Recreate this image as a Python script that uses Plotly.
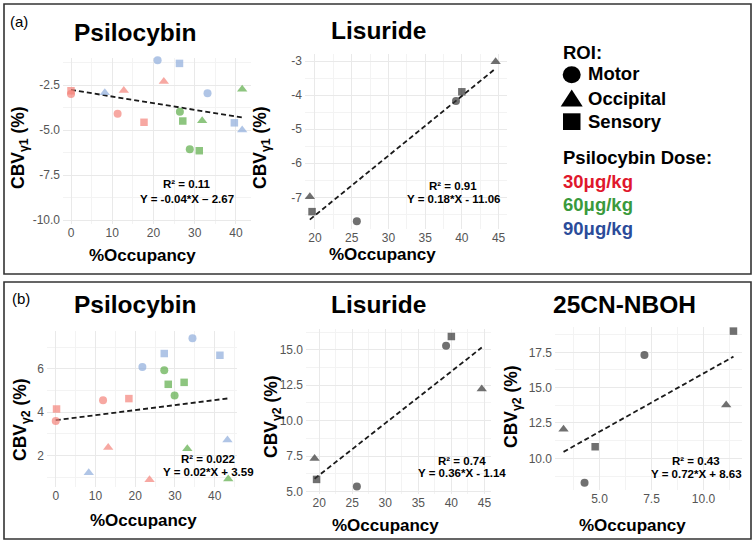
import numpy as np
import plotly.graph_objects as go

W, H = 755, 544
FONT = "Liberation Sans, Arial, Helvetica, sans-serif"

# ---------------- data ----------------
dose_names = ["30μg/kg", "60μg/kg", "90μg/kg"]
roi_names = ["Motor", "Occipital", "Sensory"]

psi_dose = ["30μg/kg"] * 6 + ["60μg/kg"] * 6 + ["90μg/kg"] * 6
psi_roi = ["Sensory", "Motor", "Motor", "Occipital", "Sensory", "Occipital",
           "Motor", "Sensory", "Motor", "Sensory", "Occipital", "Occipital",
           "Occipital", "Motor", "Sensory", "Motor", "Sensory", "Occipital"]
psi_occ_g1 = [0.0, 0.0, 11.3, 12.8, 17.7, 22.5,
              26.4, 27.1, 28.8, 31.1, 31.8, 41.5,
              8.2, 21.0, 26.3, 33.1, 39.6, 41.5]
psi_cbv_g1 = [-2.82, -3.0, -4.1, -2.8, -4.57, -2.3,
              -3.98, -4.5, -6.07, -6.15, -4.48, -2.74,
              -2.93, -1.13, -1.3, -2.96, -4.6, -5.0]
psi_occ_g2 = [0.2, 0.0, 11.9, 13.2, 18.4, 23.6,
              27.3, 28.3, 29.9, 32.3, 33.1, 43.4,
              8.3, 21.8, 27.3, 34.4, 41.3, 43.2]
psi_cbv_g2 = [4.15, 3.6, 4.55, 2.37, 4.63, 0.88,
              5.94, 5.29, 4.77, 5.38, 2.31, 0.92,
              1.21, 6.09, 6.71, 7.42, 6.63, 2.72]

lis_roi = ["Occipital", "Sensory", "Motor", "Motor", "Sensory", "Occipital"]
lis_occ = [19.3, 19.6, 25.7, 39.2, 40.0, 44.6]
lis_cbv_g1 = [-6.98, -7.42, -7.7, -4.17, -3.90, -3.02]
lis_cbv_g2 = [7.32, 5.85, 5.35, 15.28, 15.94, 12.23]

nb_roi = ["Occipital", "Motor", "Sensory", "Motor", "Occipital", "Sensory"]
nb_occ = [3.27, 4.28, 4.79, 7.16, 11.09, 11.44]
nb_cbv_g2 = [12.05, 8.27, 10.82, 17.31, 13.77, 19.0]

stats_psi_g1 = ["R² = 0.11", "Y = -0.04*X – 2.67"]
stats_lis_g1 = ["R² = 0.91", "Y = 0.18*X - 11.06"]
stats_psi_g2 = ["R² = 0.022", "Y = 0.02*X + 3.59"]
stats_lis_g2 = ["R² = 0.74", "Y = 0.36*X - 1.14"]
stats_nb_g2 = ["R² = 0.43", "Y = 0.72*X + 8.63"]

ticks_psi_x = [0, 10, 20, 30, 40]
ticks_psi_x_lab = ["0", "10", "20", "30", "40"]
ticks_psi_g1_y = [-10.0, -7.5, -5.0, -2.5]
ticks_psi_g1_y_lab = ["-10.0", "-7.5", "-5.0", "-2.5"]
ticks_lis_x = [20, 25, 30, 35, 40, 45]
ticks_lis_x_lab = ["20", "25", "30", "35", "40", "45"]
ticks_lis_g1_y = [-7, -6, -5, -4, -3]
ticks_lis_g1_y_lab = ["-7", "-6", "-5", "-4", "-3"]
ticks_psi_g2_y = [2, 4, 6]
ticks_psi_g2_y_lab = ["2", "4", "6"]
ticks_lis_g2_y = [5.0, 7.5, 10.0, 12.5, 15.0]
ticks_lis_g2_y_lab = ["5.0", "7.5", "10.0", "12.5", "15.0"]
ticks_nb_x = [5.0, 7.5, 10.0]
ticks_nb_x_lab = ["5.0", "7.5", "10.0"]
ticks_nb_g2_y = [10.0, 12.5, 15.0, 17.5]
ticks_nb_g2_y_lab = ["10.0", "12.5", "15.0", "17.5"]

# ---------------- styles ----------------
dose_color = {"30μg/kg": "#F4837B", "60μg/kg": "#5CAD49", "90μg/kg": "#8EACDC"}
legend_color = {"30μg/kg": "#E0172C", "60μg/kg": "#3A9A3C", "90μg/kg": "#2B4C9A"}
roi_symbol = {"Motor": "circle", "Occipital": "triangle-up", "Sensory": "square"}
roi_size = {"Motor": 8, "Occipital": 9, "Sensory": 7.5}
DARK = "#333333"


def fx(x):
    return x / W


def fy(y):
    return 1 - y / H


fig = go.Figure()

# panel geometry (pixels) and ranges
panels = [
    dict(k="", xd=(63, 251), yd=(58, 224), xr=(-1.94, 43.64), yr=(-10.22, -1.0),
         xt=ticks_psi_x, xtl=ticks_psi_x_lab, yt=ticks_psi_g1_y, ytl=ticks_psi_g1_y_lab),
    dict(k="2", xd=(305, 507), yd=(54, 229), xr=(18.64, 46.15), yr=(-7.93, -2.79),
         xt=ticks_lis_x, xtl=ticks_lis_x_lab, yt=ticks_lis_g1_y, ytl=ticks_lis_g1_y_lab),
    dict(k="3", xd=(47, 237), yd=(331, 487), xr=(-2.2, 45.6), yr=(0.55, 7.75),
         xt=ticks_psi_x, xtl=ticks_psi_x_lab, yt=ticks_psi_g2_y, ytl=ticks_psi_g2_y_lab),
    dict(k="4", xd=(306, 491), yd=(329, 494), xr=(18.0, 46.0), yr=(4.82, 16.47),
         xt=ticks_lis_x, xtl=ticks_lis_x_lab, yt=ticks_lis_g2_y, ytl=ticks_lis_g2_y_lab),
    dict(k="5", xd=(555, 742), yd=(327, 490), xr=(2.86, 11.85), yr=(7.76, 19.29),
         xt=ticks_nb_x, xtl=ticks_nb_x_lab, yt=ticks_nb_g2_y, ytl=ticks_nb_g2_y_lab),
]


def minor_vals(t):
    t = list(t)
    step = t[1] - t[0]
    return [t[0] - step / 2] + [a + step / 2 for a in t]


axis_common = dict(showline=False, zeroline=False, ticks="", showgrid=True,
                   gridcolor="#E9E9E9", gridwidth=1, automargin=False,
                   tickfont=dict(family=FONT, size=12, color="#555555"),
                   fixedrange=True)

for p in panels:
    k = p["k"]
    xa = dict(axis_common, domain=[fx(p["xd"][0]), fx(p["xd"][1])], range=list(p["xr"]),
              tickmode="array", tickvals=p["xt"], ticktext=p["xtl"], anchor="y" + k,
              minor=dict(showgrid=True, gridcolor="#F3F3F3", gridwidth=0.8,
                         tickmode="array", tickvals=minor_vals(p["xt"])))
    ya = dict(axis_common, domain=[fy(p["yd"][1]), fy(p["yd"][0])], range=list(p["yr"]),
              tickmode="array", tickvals=p["yt"], ticktext=p["ytl"], anchor="x" + k,
              ticklabelstandoff=2,
              minor=dict(showgrid=True, gridcolor="#F3F3F3", gridwidth=0.8,
                         tickmode="array", tickvals=minor_vals(p["yt"])))
    fig.update_layout(**{"xaxis" + k: xa, "yaxis" + k: ya})


def add_fit(xs, ys, k):
    b, a = np.polyfit(xs, ys, 1)
    xl = np.array([min(xs), max(xs)])
    fig.add_trace(go.Scatter(x=xl, y=a + b * xl, mode="lines",
                             line=dict(color="#1A1A1A", width=1.8, dash="5px,3px"),
                             xaxis="x" + k, yaxis="y" + k, hoverinfo="skip"))


def add_psi(occ, cbv, k):
    add_fit(occ, cbv, k)
    for d in dose_names:
        idx = [i for i, v in enumerate(psi_dose) if v == d]
        fig.add_trace(go.Scatter(
            x=[occ[i] for i in idx], y=[cbv[i] for i in idx], mode="markers",
            marker=dict(color=dose_color[d],
                        symbol=[roi_symbol[psi_roi[i]] for i in idx],
                        size=[roi_size[psi_roi[i]] for i in idx], line=dict(width=0)),
            cliponaxis=False, xaxis="x" + k, yaxis="y" + k, name=d))


def add_dark(occ, cbv, roi, k):
    add_fit(occ, cbv, k)
    fig.add_trace(go.Scatter(
        x=occ, y=cbv, mode="markers",
        marker=dict(color=DARK, symbol=[roi_symbol[r] for r in roi],
                    size=[roi_size[r] for r in roi], line=dict(width=0)),
        cliponaxis=False, xaxis="x" + k, yaxis="y" + k))


add_psi(psi_occ_g1, psi_cbv_g1, "")
add_dark(lis_occ, lis_cbv_g1, lis_roi, "2")
add_psi(psi_occ_g2, psi_cbv_g2, "3")
add_dark(lis_occ, lis_cbv_g2, lis_roi, "4")
add_dark(nb_occ, nb_cbv_g2, nb_roi, "5")

ann = []


def txt(s, x, y, size, bold=True, color="black", xanchor="center", angle=0):
    ann.append(dict(text=("<b>%s</b>" % s) if bold else s, x=fx(x), y=fy(y),
                    xref="paper", yref="paper", showarrow=False,
                    xanchor=xanchor, yanchor="middle", textangle=angle,
                    font=dict(family=FONT, size=size, color=color)))


# panel labels
txt("(a)", 19, 22, 15, bold=False)
txt("(b)", 21, 298, 15, bold=False)
# titles
txt("Psilocybin", 135, 32, 24.5)
txt("Lisuride", 378.5, 30, 24.5)
txt("Psilocybin", 135, 304, 24.5)
txt("Lisuride", 378.5, 304, 24.5)
txt("25CN-NBOH", 624, 304, 24.5)
# axis titles
for (x, y) in [(142, 255), (383, 254.5), (143, 520), (385, 525), (632, 525)]:
    txt("%Occupancy", x, y, 17)
ytitle1 = "CBV<sub>γ1</sub> (%)"
ytitle2 = "CBV<sub>γ2</sub> (%)"
txt(ytitle1, 20, 148, 17.5, angle=-90)
txt(ytitle1, 262, 148, 17.5, angle=-90)
txt(ytitle2, 21, 420, 17.5, angle=-90)
txt(ytitle2, 272, 417, 17.5, angle=-90)
txt(ytitle2, 512, 407, 17.5, angle=-90)
# stats
for (s, x, y1, y2) in [(stats_psi_g1, 187, 184, 199.3), (stats_lis_g1, 453, 185.7, 199),
                       (stats_psi_g2, 208, 459.3, 472), (stats_lis_g2, 461.5, 460.7, 473.3),
                       (stats_nb_g2, 696, 460.7, 474)]:
    txt(s[0], x, y1, 11.5)
    txt(s[1], x, y2, 11.5)

# legend text
txt("ROI:", 560.5, 52.3, 18.5, xanchor="left")
for r, y in zip(roi_names, [74, 98, 121.5]):
    txt(r, 585.5, y, 18.5, xanchor="left")
txt("Psilocybin Dose:", 560.5, 157, 18.5, xanchor="left")
for d, y in zip(dose_names, [181.5, 204.5, 229]):
    txt(d, 560.5, y, 18.5, xanchor="left", color=legend_color[d])

shapes = []
# outer boxes
for (x0, y0, x1, y1) in [(4, 4, 751, 274), (4, 282, 751, 539)]:
    shapes.append(dict(type="rect", xref="paper", yref="paper",
                       x0=fx(x0), x1=fx(x1), y0=fy(y1), y1=fy(y0),
                       line=dict(color="#333333", width=1.6), fillcolor="rgba(0,0,0,0)"))
# legend keys
shapes.append(dict(type="circle", xref="paper", yref="paper",
                   x0=fx(562.7), x1=fx(580.7), y0=fy(83.3), y1=fy(66.3),
                   fillcolor="black", line=dict(width=0)))
shapes.append(dict(type="path", xref="paper", yref="paper",
                   path="M %f,%f L %f,%f L %f,%f Z" % (fx(560.7), fy(106.5), fx(582.7), fy(106.5),
                                                       fx(571.7), fy(89.5)),
                   fillcolor="black", line=dict(width=0)))
shapes.append(dict(type="rect", xref="paper", yref="paper",
                   x0=fx(563), x1=fx(580.5), y0=fy(130), y1=fy(113.3),
                   fillcolor="black", line=dict(width=0)))

fig.update_layout(width=W, height=H, margin=dict(l=0, r=0, t=0, b=0),
                  paper_bgcolor="white", plot_bgcolor="white", showlegend=False,
                  annotations=ann, shapes=shapes, font=dict(family=FONT))

fig.write_html("out.html", config={"displayModeBar": False},
               post_script="document.body.style.margin='0';document.body.style.overflow='hidden';")
